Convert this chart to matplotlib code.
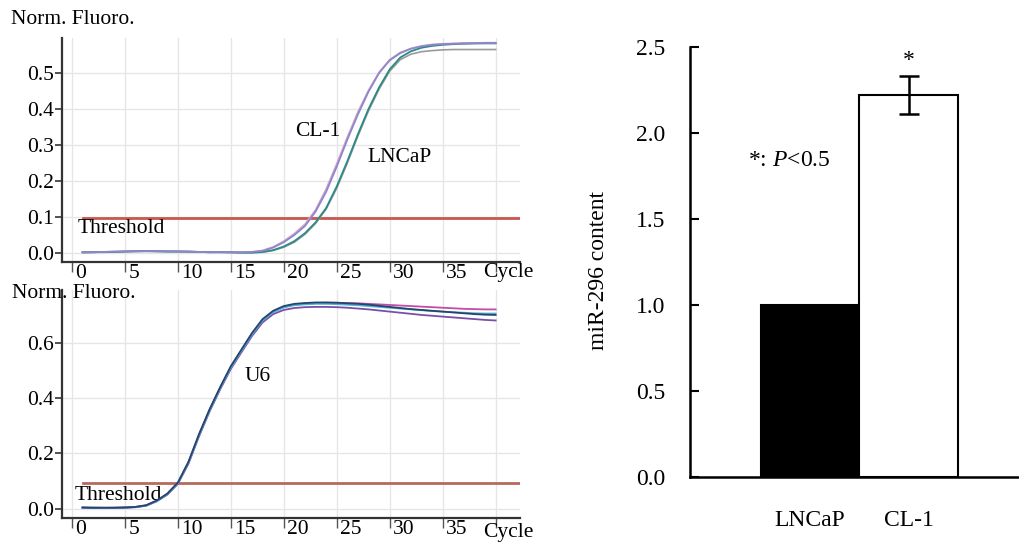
import matplotlib
matplotlib.use("Agg")
import matplotlib.pyplot as plt
import matplotlib.transforms as mtransforms
import numpy as np

plt.rcParams['font.family'] = ['Liberation Serif', 'DejaVu Serif']
plt.rcParams['mathtext.fontset'] = 'custom'
plt.rcParams['mathtext.rm'] = 'Liberation Serif'
plt.rcParams['mathtext.it'] = 'Liberation Serif:italic'

# ---------------- data ----------------
cycles = list(range(1, 41))

# top panel (miR-296 amplification)
cl1_a = [0.002, 0.002, 0.003, 0.004, 0.004, 0.005, 0.005, 0.005, 0.005, 0.004,
         0.004, 0.003, 0.002, 0.003, 0.002, 0.002, 0.003, 0.006, 0.015, 0.030,
         0.050, 0.075, 0.115, 0.170, 0.240, 0.315, 0.385, 0.448, 0.500, 0.535,
         0.555, 0.567, 0.574, 0.578, 0.580, 0.581, 0.582, 0.582, 0.583, 0.583]
cl1_b = [0.002, 0.003, 0.003, 0.004, 0.005, 0.005, 0.006, 0.005, 0.005, 0.005,
         0.004, 0.003, 0.003, 0.003, 0.002, 0.002, 0.003, 0.007, 0.017, 0.033,
         0.054, 0.080, 0.120, 0.178, 0.248, 0.322, 0.392, 0.452, 0.502, 0.537,
         0.557, 0.568, 0.575, 0.579, 0.581, 0.582, 0.583, 0.583, 0.584, 0.584]
lncap_a = [0.002, 0.002, 0.003, 0.003, 0.004, 0.005, 0.005, 0.005, 0.004, 0.004,
           0.004, 0.003, 0.002, 0.002, 0.002, 0.001, 0.001, 0.003, 0.008, 0.018,
           0.033, 0.055, 0.085, 0.125, 0.185, 0.255, 0.330, 0.400, 0.460, 0.510,
           0.543, 0.560, 0.570, 0.575, 0.578, 0.580, 0.581, 0.582, 0.582, 0.582]
lncap_b = [0.001, 0.002, 0.002, 0.003, 0.004, 0.004, 0.005, 0.004, 0.004, 0.004,
           0.003, 0.003, 0.002, 0.002, 0.001, 0.001, 0.001, 0.002, 0.007, 0.016,
           0.030, 0.052, 0.082, 0.122, 0.180, 0.250, 0.325, 0.395, 0.455, 0.505,
           0.537, 0.552, 0.559, 0.562, 0.564, 0.565, 0.565, 0.565, 0.565, 0.565]
threshold_top = 0.098

# bottom panel (U6 amplification)
u6_a = [0.005, 0.004, 0.004, 0.004, 0.005, 0.007, 0.013, 0.030, 0.055, 0.095,
        0.170, 0.270, 0.360, 0.440, 0.515, 0.575, 0.635, 0.685, 0.715, 0.732,
        0.740, 0.743, 0.745, 0.745, 0.744, 0.742, 0.740, 0.737, 0.733, 0.729,
        0.725, 0.721, 0.718, 0.715, 0.712, 0.709, 0.706, 0.703, 0.701, 0.700]
u6_b = [0.005, 0.005, 0.004, 0.004, 0.005, 0.006, 0.012, 0.028, 0.053, 0.093,
        0.167, 0.266, 0.356, 0.436, 0.510, 0.570, 0.630, 0.680, 0.710, 0.727,
        0.735, 0.738, 0.740, 0.740, 0.739, 0.737, 0.735, 0.732, 0.729, 0.726,
        0.723, 0.720, 0.717, 0.714, 0.712, 0.710, 0.708, 0.706, 0.705, 0.705]
u6_c = [0.004, 0.004, 0.004, 0.004, 0.005, 0.007, 0.013, 0.029, 0.054, 0.094,
        0.168, 0.268, 0.358, 0.438, 0.512, 0.572, 0.632, 0.682, 0.712, 0.729,
        0.737, 0.741, 0.743, 0.744, 0.744, 0.743, 0.742, 0.740, 0.738, 0.736,
        0.734, 0.732, 0.730, 0.728, 0.726, 0.724, 0.722, 0.721, 0.720, 0.720]
u6_d = [0.004, 0.003, 0.003, 0.004, 0.004, 0.006, 0.011, 0.027, 0.051, 0.090,
        0.163, 0.262, 0.352, 0.432, 0.505, 0.565, 0.624, 0.673, 0.703, 0.718,
        0.725, 0.728, 0.729, 0.729, 0.728, 0.726, 0.723, 0.720, 0.716, 0.712,
        0.708, 0.704, 0.700, 0.697, 0.694, 0.691, 0.688, 0.685, 0.682, 0.680]
threshold_bottom = 0.095

# bar panel
bar_labels = ['LNCaP', 'CL-1']
bar_values = [1.0, 2.22]
bar_errors = [0.0, 0.11]

xtick_vals = [0, 5, 10, 15, 20, 25, 30, 35]
top_yticks = [0.0, 0.1, 0.2, 0.3, 0.4, 0.5]
bottom_yticks = [0.0, 0.2, 0.4, 0.6]
bar_yticks = [0.0, 0.5, 1.0, 1.5, 2.0, 2.5]

# ---------------- figure ----------------
W, H = 1020, 542
fig = plt.figure(figsize=(W / 100, H / 100), dpi=100)


def axes_px(l, t, r, b):
    return fig.add_axes([l / W, 1 - b / H, (r - l) / W, (b - t) / H])


FS = 15.5
BFS = 17
spine_col = '#333333'
grid_col = '#e6e6e6'


def style_line_axes(ax, yticks, ylim):
    ax.set_xlim(-0.94, 42.3)
    ax.set_ylim(*ylim)
    for s in ['top', 'right']:
        ax.spines[s].set_visible(False)
    for s in ['left', 'bottom']:
        ax.spines[s].set_color(spine_col)
        ax.spines[s].set_linewidth(1.6)
    ax.set_xticks(xtick_vals + [40])
    ax.set_xticklabels([str(v) for v in xtick_vals] + [''], ha='left', fontsize=FS)
    ax.set_yticks(yticks)
    ax.set_yticklabels([f'{v:.1f}' for v in yticks], fontsize=FS)
    ax.tick_params(axis='x', direction='out', length=7, width=1.0, pad=-5.5,
                   color='#555555')
    ax.tick_params(axis='y', direction='out', length=5, width=1.2, pad=1.0,
                   color='#333333')
    off = mtransforms.ScaledTranslation(3.5 / 100, 0, fig.dpi_scale_trans)
    for lab in ax.get_xticklabels():
        lab.set_transform(lab.get_transform() + off)
    ax.grid(True, color=grid_col, linewidth=1.0)
    ax.set_axisbelow(True)


# top qPCR panel
ax1 = axes_px(62, 38, 520, 262)
style_line_axes(ax1, top_yticks, (-0.025, 0.597))
ax1.plot([1, 42.3], [threshold_top, threshold_top], color='#c8574e', lw=2.0, zorder=2)
ax1.plot(cycles, lncap_b, color='#9a9a9a', lw=1.2, zorder=3)
ax1.plot(cycles, cl1_b, color='#d2a6c8', lw=1.2, zorder=3)
ax1.plot(cycles, lncap_a, color='#2a8a86', lw=1.3, zorder=4)
ax1.plot(cycles, cl1_a, color='#8f86cc', lw=1.3, zorder=4)
ax1.text(23.2, 0.336, 'CL-1', fontsize=FS, ha='center', va='center')
ax1.text(30.9, 0.264, 'LNCaP', fontsize=FS, ha='center', va='center')
ax1.text(0.55, 0.067, 'Threshold', fontsize=FS, ha='left', va='center')
ax1.text(483 / W, 1 - 272 / H, 'Cycle', transform=fig.transFigure, fontsize=FS,
         ha='left', va='center')
fig.text(11 / W, 1 - 20 / H, 'Norm. Fluoro.', fontsize=FS, ha='left', va='center')

# bottom qPCR panel
ax2 = axes_px(62, 290, 520, 518)
style_line_axes(ax2, bottom_yticks, (-0.033, 0.79))
ax2.plot([1, 42.3], [threshold_bottom, threshold_bottom], color='#b86a5e', lw=2.0, zorder=2)
ax2.plot(cycles, u6_d, color='#7a4fa8', lw=1.3, zorder=3)
ax2.plot(cycles, u6_c, color='#c64aa8', lw=1.3, zorder=3)
ax2.plot(cycles, u6_b, color='#4fb0cf', lw=1.3, zorder=4)
ax2.plot(cycles, u6_a, color='#23466e', lw=1.3, zorder=4)
ax2.text(17.5, 0.477, 'U6', fontsize=FS, ha='center', va='center')
ax2.text(0.25, 0.05, 'Threshold', fontsize=FS, ha='left', va='center')
ax2.text(483 / W, 1 - 532 / H, 'Cycle', transform=fig.transFigure, fontsize=FS,
         ha='left', va='center')
fig.text(12 / W, 1 - 293 / H, 'Norm. Fluoro.', fontsize=FS, ha='left', va='center')

# bar panel
ax3 = axes_px(690, 47, 1020, 477)
xpos = np.arange(len(bar_labels))
ax3.bar(xpos, bar_values, width=1.0, color=['black', 'white'],
        edgecolor='black', linewidth=1.5, zorder=2)
ax3.errorbar(xpos[1], bar_values[1], yerr=bar_errors[1], fmt='none',
             ecolor='black', elinewidth=1.8, capsize=7, capthick=1.8, zorder=3)
ax3.set_xlim(-1.22, 2.13)
ax3.set_ylim(0, 2.5)
for s in ['top', 'right']:
    ax3.spines[s].set_visible(False)
for s in ['left', 'bottom']:
    ax3.spines[s].set_linewidth(1.8)
ax3.set_xticks(xpos)
ax3.set_xticklabels(bar_labels, fontsize=BFS)
ax3.tick_params(axis='x', length=0, pad=24)
ax3.set_yticks(bar_yticks)
ax3.set_yticklabels([f'{v:.1f}' for v in bar_yticks], fontsize=BFS)
ax3.tick_params(axis='y', direction='in', length=6.5, width=1.5, pad=18)
ax3.set_ylabel('miR-296 content', fontsize=BFS)
ax3.yaxis.set_label_coords(-0.245, 0.48)
ax3.text(xpos[1], 2.42, '*', fontsize=BFS, ha='center', va='center')
ax3.text(748 / W, 1 - 160 / H, r'*: $\mathit{P}$<0.5', transform=fig.transFigure,
         fontsize=BFS, ha='left', va='center')

fig.savefig('out.png', dpi=100)
